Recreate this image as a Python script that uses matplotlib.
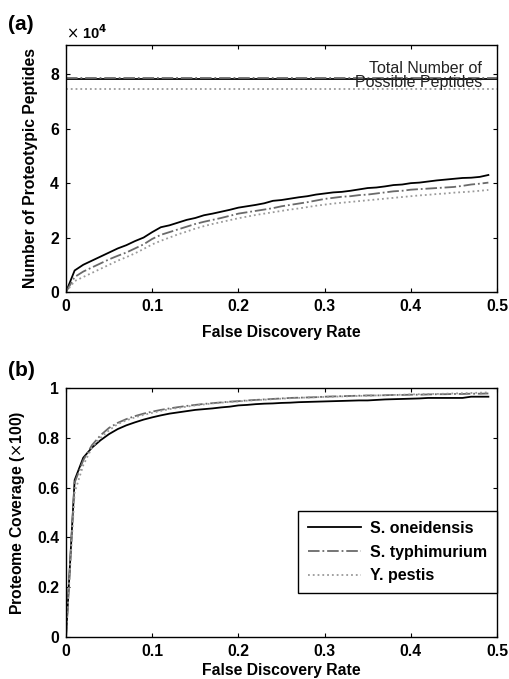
import numpy as np
import matplotlib
matplotlib.use("Agg")
import matplotlib.pyplot as plt

plt.rcParams['font.family'] = ['Liberation Sans', 'DejaVu Sans']

# false discovery rate grid
fdr = [round(0.01 * i, 2) for i in range(50)]

# (a) number of proteotypic peptides, x 1e4
pep_oneidensis = [0, 0.79, 1.0, 1.15, 1.3, 1.45, 1.6, 1.72, 1.87, 2.0,
                  2.2, 2.38, 2.45, 2.55, 2.65, 2.72, 2.82, 2.88, 2.95, 3.02,
                  3.1, 3.15, 3.2, 3.26, 3.35, 3.38, 3.43, 3.48, 3.52, 3.58,
                  3.62, 3.66, 3.68, 3.72, 3.77, 3.82, 3.84, 3.88, 3.93, 3.95,
                  4.0, 4.02, 4.06, 4.1, 4.13, 4.16, 4.19, 4.2, 4.23, 4.3]
pep_typhimurium = [0, 0.55, 0.75, 0.9, 1.05, 1.2, 1.33, 1.45, 1.6, 1.75,
                   1.95, 2.1, 2.2, 2.3, 2.4, 2.5, 2.58, 2.65, 2.72, 2.8,
                   2.88, 2.93, 2.98, 3.03, 3.08, 3.15, 3.2, 3.25, 3.3, 3.36,
                   3.42, 3.46, 3.5, 3.52, 3.56, 3.58, 3.62, 3.66, 3.7, 3.72,
                   3.76, 3.78, 3.8, 3.82, 3.84, 3.86, 3.9, 3.95, 3.98, 4.02]
pep_pestis = [0, 0.4, 0.55, 0.7, 0.85, 1.0, 1.15, 1.28, 1.42, 1.58,
              1.75, 1.88, 2.0, 2.12, 2.22, 2.33, 2.42, 2.5, 2.57, 2.64,
              2.71, 2.77, 2.83, 2.88, 2.93, 2.98, 3.03, 3.07, 3.12, 3.17,
              3.21, 3.25, 3.28, 3.31, 3.34, 3.37, 3.4, 3.43, 3.46, 3.49,
              3.52, 3.55, 3.57, 3.6, 3.62, 3.65, 3.67, 3.69, 3.72, 3.75]
total_possible = [7.82, 7.87, 7.47]  # oneidensis, typhimurium, pestis

# (b) proteome coverage
cov_oneidensis = [0, 0.63, 0.72, 0.76, 0.79, 0.815, 0.835, 0.85, 0.862, 0.873,
                  0.882, 0.89, 0.897, 0.902, 0.907, 0.912, 0.915, 0.918, 0.922, 0.925,
                  0.93, 0.932, 0.935, 0.937, 0.938, 0.94, 0.941, 0.943, 0.944, 0.945,
                  0.946, 0.947, 0.948, 0.949, 0.95, 0.95, 0.952, 0.954, 0.955, 0.956,
                  0.957, 0.958, 0.96, 0.96, 0.96, 0.96, 0.96, 0.965, 0.965, 0.965]
cov_typhimurium = [0, 0.62, 0.71, 0.77, 0.81, 0.84, 0.86, 0.875, 0.887, 0.897,
                   0.905, 0.912, 0.918, 0.923, 0.928, 0.932, 0.936, 0.939, 0.942, 0.945,
                   0.947, 0.95, 0.952, 0.954, 0.956, 0.958, 0.96, 0.961, 0.962, 0.963,
                   0.965, 0.966, 0.967, 0.968, 0.969, 0.97, 0.97, 0.971, 0.972, 0.972,
                   0.973, 0.973, 0.974, 0.975, 0.975, 0.976, 0.976, 0.977, 0.977, 0.978]
cov_pestis = [0, 0.58, 0.69, 0.76, 0.80, 0.83, 0.855, 0.87, 0.882, 0.892,
              0.90, 0.908, 0.915, 0.92, 0.925, 0.93, 0.934, 0.938, 0.941, 0.944,
              0.946, 0.949, 0.951, 0.953, 0.955, 0.957, 0.959, 0.96, 0.962, 0.963,
              0.964, 0.965, 0.966, 0.967, 0.968, 0.969, 0.97, 0.971, 0.972, 0.973,
              0.974, 0.975, 0.976, 0.976, 0.977, 0.978, 0.979, 0.98, 0.981, 0.982]

names = ['S. oneidensis', 'S. typhimurium', 'Y. pestis']
styles = [('-', '#000000'), ('-.', '#6a6a6a'), (':', '#9a9a9a')]

fig = plt.figure(figsize=(5.09, 6.79), dpi=100)
ax1 = fig.add_axes([0.1297, 0.5700, 0.8467, 0.3638])
ax2 = fig.add_axes([0.1297, 0.0619, 0.8467, 0.3667])

fs = 11.3


def style_axis(ax):
    ax.tick_params(direction='in', top=True, right=True, length=3, width=0.8,
                   labelsize=fs)
    ax.tick_params(axis='x', pad=5)
    ax.tick_params(axis='y', pad=5)
    for lab in ax.get_xticklabels() + ax.get_yticklabels():
        lab.set_fontweight('bold')
    for sp in ax.spines.values():
        sp.set_linewidth(1.0)


# panel (a)
pep_sets = [pep_oneidensis, pep_typhimurium, pep_pestis]
for vals, tot, (ls, c) in zip(pep_sets, total_possible, styles):
    ax1.plot(fdr, np.array(vals) * 1e4, ls=ls, color=c, lw=1.3)
    ax1.axhline(tot * 1e4, ls=ls, color=c, lw=1.3)
ax1.set_xlim(0, 0.5)
ax1.set_ylim(0, 9.08e4)
ax1.set_yticks([0, 2e4, 4e4, 6e4, 8e4])
ax1.set_yticklabels(['0', '2', '4', '6', '8'])
ax1.set_xticks([0, 0.1, 0.2, 0.3, 0.4, 0.5])
ax1.set_xticklabels(['0', '0.1', '0.2', '0.3', '0.4', '0.5'])
ax1.set_xlabel('False Discovery Rate', fontsize=fs, fontweight='bold', labelpad=8)
ax1.set_ylabel('Number of Proteotypic Peptides', fontsize=fs, fontweight='bold', labelpad=9)
ax1.text(0.966, 0.935, 'Total Number of\nPossible Peptides', transform=ax1.transAxes,
         ha='right', va='top', fontsize=11.5, color='#222222', linespacing=0.95)
ax1.text(0.0, 1.01, r'$\times$' + ' 10$^{\mathbf{4}}$', transform=ax1.transAxes,
         ha='left', va='bottom', fontsize=10.5, fontweight='bold')
style_axis(ax1)

# panel (b)
cov_sets = [cov_oneidensis, cov_typhimurium, cov_pestis]
for vals, name, (ls, c) in zip(cov_sets, names, styles):
    ax2.plot(fdr, vals, ls=ls, color=c, lw=1.3, label=name)
ax2.set_xlim(0, 0.5)
ax2.set_ylim(0, 1)
ax2.set_yticks([0, 0.2, 0.4, 0.6, 0.8, 1])
ax2.set_yticklabels(['0', '0.2', '0.4', '0.6', '0.8', '1'])
ax2.set_xticks([0, 0.1, 0.2, 0.3, 0.4, 0.5])
ax2.set_xticklabels(['0', '0.1', '0.2', '0.3', '0.4', '0.5'])
ax2.set_xlabel('False Discovery Rate', fontsize=fs, fontweight='bold', labelpad=3)
ax2.set_ylabel(r'Proteome Coverage ($\times$100)', fontsize=fs, fontweight='bold', labelpad=7)
leg = ax2.legend(loc='upper right', bbox_to_anchor=(1.0, 0.505), borderaxespad=0,
                 fancybox=False, edgecolor='black', framealpha=1,
                 prop={'weight': 'bold', 'size': 11.5}, handlelength=3.3,
                 borderpad=0.6, labelspacing=0.55, handletextpad=0.6)
leg.get_frame().set_linewidth(1.0)
style_axis(ax2)

fig.text(0.015, 0.964, '(a)', fontsize=15, fontweight='bold', va='center')
fig.text(0.015, 0.455, '(b)', fontsize=15, fontweight='bold', va='center')

fig.savefig('out.png', dpi=100)
